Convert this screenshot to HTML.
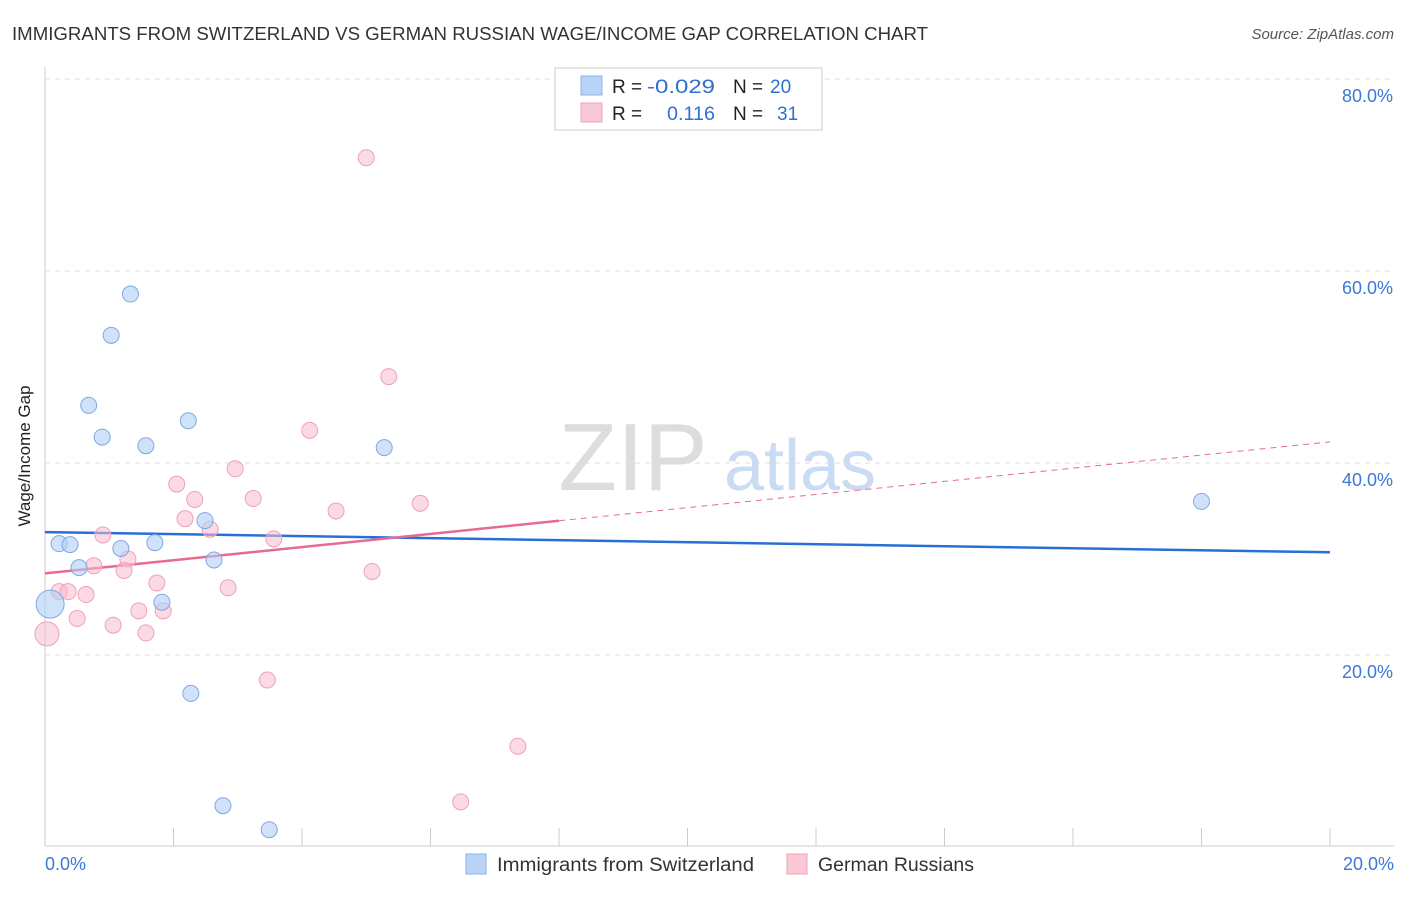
<!DOCTYPE html>
<html><head><meta charset="utf-8"><style>
body{margin:0;background:#fff;font-family:"Liberation Sans",sans-serif;}
svg text{font-family:"Liberation Sans",sans-serif;}
</style></head><body>
<svg id="chart" width="1406" height="892">
<text x="12" y="40" font-size="18" fill="#333" textLength="916" lengthAdjust="spacingAndGlyphs">IMMIGRANTS FROM SWITZERLAND VS GERMAN RUSSIAN WAGE/INCOME GAP CORRELATION CHART</text>
<text x="1394" y="39" font-size="15" fill="#555" font-style="italic" text-anchor="end">Source: ZipAtlas.com</text>
<text x="30" y="456" font-size="17" fill="#222" text-anchor="middle" transform="rotate(-90 30 456)">Wage/Income Gap</text>
<g id="grid"></g>
<g><text x="633" y="490" font-size="96" fill="#ddd" text-anchor="middle" font-family="Liberation Serif,serif">ZIP</text><text x="800" y="490" font-size="72" fill="#c9dcf3" text-anchor="middle">atlas</text></g>
<g id="axes"></g>
<g id="lines"></g>
<g id="pts"></g>
<g>
<rect x="555" y="68" width="267" height="62" fill="#fff" stroke="#ccc"/>
<rect x="581" y="76" width="21" height="19" fill="#b8d3f5" stroke="#8ab4ea"/>
<rect x="581" y="103" width="21" height="19" fill="#fbc8d6" stroke="#f0a0b8"/>
<text x="612" y="93" font-size="19" fill="#222">R = </text><text x="647" y="93" font-size="19" fill="#2e6fd0" textLength="68" lengthAdjust="spacingAndGlyphs">-0.029</text>
<text x="733" y="93" font-size="19" fill="#222">N = </text><text x="770" y="93" font-size="19" fill="#2e6fd0">20</text>
<text x="612" y="120" font-size="19" fill="#222">R = </text><text x="667" y="120" font-size="19" fill="#2e6fd0" textLength="48" lengthAdjust="spacingAndGlyphs">0.116</text>
<text x="733" y="120" font-size="19" fill="#222">N = </text><text x="777" y="120" font-size="19" fill="#2e6fd0">31</text>
</g>
<g>
<rect x="466" y="854" width="20" height="20" fill="#b8d3f5" stroke="#8ab4ea"/>
<text x="497" y="871" font-size="19" fill="#333" textLength="257" lengthAdjust="spacingAndGlyphs">Immigrants from Switzerland</text>
<rect x="787" y="854" width="20" height="20" fill="#fbc8d6" stroke="#f0a0b8"/>
<text x="818" y="871" font-size="19" fill="#333" textLength="156" lengthAdjust="spacingAndGlyphs">German Russians</text>
</g>
</svg>
<script>
const yTicks=[20,40,60,80];
const xTickLabels=["0.0%","20.0%"];
const blueX=[1.33,1.03,0.68,0.89,1.57,2.23,5.28,0.22,0.39,1.18,1.71,0.53,2.49,2.63,1.82,2.27,2.77,3.49,18.0,0.08];
const blueY=[57.6,53.3,46.0,42.7,41.8,44.4,41.6,31.6,31.5,31.1,31.7,29.1,34.0,29.9,25.5,16.0,4.3,1.8,36.0,25.3];
const pinkX=[5.0,5.35,4.12,2.96,2.05,2.33,3.24,4.53,5.84,2.18,2.57,0.90,3.56,1.29,0.76,1.23,5.09,1.74,2.85,0.22,0.36,0.64,1.46,1.84,0.50,1.06,1.57,0.03,3.46,7.36,6.47];
const pinkY=[71.8,49.0,43.4,39.4,37.8,36.2,36.3,35.0,35.8,34.2,33.1,32.5,32.1,30.0,29.3,28.8,28.7,27.5,27.0,26.6,26.6,26.3,24.6,24.6,23.8,23.1,22.3,22.2,17.4,10.5,4.7];
const blueTrend=[32.8,30.7];
const pinkTrend=[28.5,42.2];
const pinkSolidEnd=8;
const X=v=>45+v*64.25, Y=v=>847-v*9.6;
const NS="http://www.w3.org/2000/svg";
function mk(t,a,p){const e=document.createElementNS(NS,t);for(const k in a)e.setAttribute(k,a[k]);p.appendChild(e);return e;}
const grid=document.getElementById('grid'),axes=document.getElementById('axes');
yTicks.forEach(t=>{
 const l=mk('line',{x1:45,x2:1394,y1:Y(t),y2:Y(t),stroke:'#ddd','stroke-dasharray':'5,5'},grid);
 
 
 const tx=mk('text',{x:1393,y:Y(t)+23,'font-size':18,fill:'#3b78d8','text-anchor':'end'},grid);
 tx.textContent=t.toFixed(1)+'%';
 
 
});
mk('line',{x1:45,x2:45,y1:67,y2:846,stroke:'#ccc'},axes);
mk('line',{x1:45,x2:1394,y1:846,y2:846,stroke:'#ccc'},axes);
for(let i=0;i<=20;i+=2){mk('line',{x1:X(i),x2:X(i),y1:828,y2:846,stroke:'#ccc'},axes);}
const xl0=mk('text',{x:45,y:870,'font-size':18,fill:'#3b78d8'},axes);xl0.textContent=xTickLabels[0];


const xl1=mk('text',{x:1394,y:870,'font-size':18,fill:'#3b78d8','text-anchor':'end'},axes);xl1.textContent=xTickLabels[1];


const lines=document.getElementById('lines');
const bl=mk('line',{x1:X(0),y1:Y(blueTrend[0]),x2:X(20),y2:Y(blueTrend[1]),stroke:'#2a6fd6','stroke-width':2.5},lines);


const pAt=x=>pinkTrend[0]+(pinkTrend[1]-pinkTrend[0])*x/20;
const pl=mk('line',{x1:X(0),y1:Y(pAt(0)),x2:X(pinkSolidEnd),y2:Y(pAt(pinkSolidEnd)),stroke:'#e86a93','stroke-width':2.5},lines);


const pd=mk('line',{x1:X(pinkSolidEnd),y1:Y(pAt(pinkSolidEnd)),x2:X(20),y2:Y(pAt(20)),stroke:'#e86a93','stroke-width':1,'stroke-dasharray':'6,5'},lines);


const pts=document.getElementById('pts');
pinkX.forEach((x,i)=>{const r=i==27?12:8;
 const c=mk('circle',{cx:X(x),cy:Y(pinkY[i]),r:r,fill:'rgba(248,187,206,0.55)',stroke:'#f0a0b8','stroke-width':1},pts);
 
 });
blueX.forEach((x,i)=>{const r=i==19?14:8;
 const c=mk('circle',{cx:X(x),cy:Y(blueY[i]),r:r,fill:'rgba(176,206,245,0.6)',stroke:'#7ea9e3','stroke-width':1},pts);
 
 });
</script>
</body></html>
